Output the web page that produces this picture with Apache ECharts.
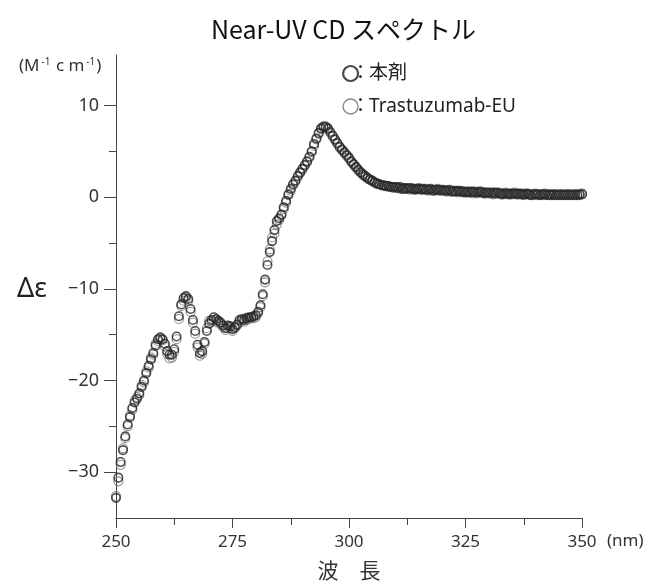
<!DOCTYPE html>
<html>
<head>
<meta charset="utf-8">
<script src="https://cdn.jsdelivr.net/npm/echarts@6/dist/echarts.min.js"></script>
<style>html,body{margin:0;padding:0;background:#fff}#c{width:646px;height:583px}</style>
</head>
<body>
<div id="c"></div>
<script>
const titleText = 'Near-UV CD スペクトル';
const seriesNames = ['本剤', 'Trastuzumab-EU'];
const xTickLabels = [250, 275, 300, 325, 350];
const yTickLabels = [-30, -20, -10, 0, 10];
const yMinorTicks = [-25, -15, -5, 5];

const wavelengths = [
250,250.5,251,251.5,252,252.5,253,253.5,254,254.5,
255,255.5,256,256.5,257,257.5,258,258.5,259,259.5,
260,260.5,261,261.5,262,262.5,263,263.5,264,264.5,
265,265.5,266,266.5,267,267.5,268,268.5,269,269.5,
270,270.5,271,271.5,272,272.5,273,273.5,274,274.5,
275,275.5,276,276.5,277,277.5,278,278.5,279,279.5,
280,280.5,281,281.5,282,282.5,283,283.5,284,284.5,
285,285.5,286,286.5,287,287.5,288,288.5,289,289.5,
290,290.5,291,291.5,292,292.5,293,293.5,294,294.5,
295,295.5,296,296.5,297,297.5,298,298.5,299,299.5,
300,300.5,301,301.5,302,302.5,303,303.5,304,304.5,
305,305.5,306,306.5,307,307.5,308,308.5,309,309.5,
310,310.5,311,311.5,312,312.5,313,313.5,314,314.5,
315,315.5,316,316.5,317,317.5,318,318.5,319,319.5,
320,320.5,321,321.5,322,322.5,323,323.5,324,324.5,
325,325.5,326,326.5,327,327.5,328,328.5,329,329.5,
330,330.5,331,331.5,332,332.5,333,333.5,334,334.5,
335,335.5,336,336.5,337,337.5,338,338.5,339,339.5,
340,340.5,341,341.5,342,342.5,343,343.5,344,344.5,
345,345.5,346,346.5,347,347.5,348,348.5,349,349.5,
350];

const honzai = [
-32.8,-30.6,-28.9,-27.6,-26.1,-24.8,-24.0,-23.0,-22.4,-22.0,
-21.4,-20.7,-20.0,-19.2,-18.4,-17.7,-17.0,-16.2,-15.5,-15.3,
-15.5,-16.0,-16.8,-17.2,-17.2,-16.6,-15.2,-13.0,-11.7,-11.0,
-10.8,-11.1,-12.2,-13.4,-14.6,-16.1,-17.0,-16.8,-15.8,-14.6,
-13.8,-13.4,-13.1,-13.3,-13.5,-13.7,-14.0,-14.3,-14.0,-14.1,
-14.4,-14.2,-13.9,-13.4,-13.3,-13.4,-13.2,-13.1,-13.1,-13.0,
-12.9,-12.5,-11.8,-10.6,-9.0,-7.4,-6.0,-4.8,-3.6,-2.6,
-2.3,-1.9,-1.1,-0.4,0.3,0.9,1.4,1.8,2.3,2.7,
3.1,3.5,3.9,4.4,5.0,5.8,6.4,7.0,7.5,7.7,
7.7,7.5,7.1,6.7,6.3,5.9,5.5,5.2,4.9,4.6,
4.3,3.9,3.6,3.3,3.0,2.7,2.5,2.3,2.1,1.9,
1.8,1.6,1.5,1.4,1.3,1.3,1.2,1.2,1.1,1.1,
1.1,1.0,1.1,0.9,1.0,0.9,1.0,0.9,0.8,0.9,
0.9,0.8,0.9,0.8,0.8,0.9,0.7,0.8,0.8,0.7,
0.8,0.7,0.7,0.8,0.6,0.7,0.6,0.7,0.6,0.6,
0.5,0.6,0.5,0.6,0.5,0.5,0.6,0.5,0.4,0.5,
0.5,0.4,0.5,0.4,0.5,0.4,0.3,0.4,0.4,0.3,
0.4,0.4,0.3,0.4,0.3,0.3,0.4,0.3,0.2,0.3,
0.3,0.3,0.2,0.3,0.3,0.2,0.3,0.2,0.3,0.2,
0.2,0.3,0.2,0.2,0.3,0.2,0.2,0.3,0.2,0.3,
0.3];

const trastuzumabEU = [
-32.6,-31.0,-29.2,-27.4,-26.3,-25.0,-23.8,-23.2,-22.2,-21.8,
-21.6,-20.5,-20.2,-19.0,-18.6,-17.5,-17.2,-16.0,-15.7,-15.5,
-15.6,-16.3,-17.1,-17.6,-17.5,-16.9,-15.5,-13.3,-11.9,-11.3,
-11.0,-11.3,-12.5,-13.7,-14.9,-16.4,-17.3,-17.1,-16.0,-14.3,
-13.5,-13.6,-13.4,-13.6,-13.7,-13.9,-14.2,-14.5,-14.3,-14.3,
-14.6,-14.3,-14.0,-13.6,-13.5,-13.6,-13.4,-13.3,-13.2,-13.2,
-13.1,-12.7,-12.0,-10.8,-9.3,-7.0,-5.7,-4.4,-4.0,-3.0,
-2.5,-2.0,-1.3,-0.6,0.2,0.7,1.3,1.7,2.2,2.6,
3.0,3.4,3.8,4.3,4.9,5.6,6.3,6.9,7.4,7.6,
7.6,7.4,7.0,6.6,6.2,5.8,5.4,5.1,4.8,4.5,
4.2,3.8,3.5,3.2,2.9,2.7,2.4,2.2,2.0,1.9,
1.7,1.6,1.4,1.4,1.3,1.2,1.2,1.1,1.1,1.0,
1.0,1.1,0.9,1.0,0.9,1.0,0.8,1.0,0.9,0.8,
1.0,0.9,0.8,0.9,0.7,0.8,0.8,0.7,0.9,0.8,
0.7,0.8,0.6,0.7,0.7,0.6,0.7,0.5,0.7,0.5,
0.6,0.5,0.6,0.4,0.6,0.4,0.5,0.6,0.5,0.4,
0.4,0.5,0.3,0.5,0.4,0.3,0.4,0.5,0.3,0.4,
0.3,0.5,0.4,0.3,0.4,0.2,0.3,0.4,0.3,0.2,
0.4,0.2,0.3,0.2,0.4,0.3,0.2,0.3,0.2,0.3,
0.3,0.2,0.3,0.3,0.2,0.3,0.3,0.2,0.3,0.2,
0.4];

const FONT = "'Noto Sans', 'Noto Sans CJK JP', sans-serif";
const pairs = (vals) => wavelengths.map((w, i) => [w, vals[i]]);

const chart = echarts.init(document.getElementById('c'), null, {renderer: 'canvas'});
chart.setOption({
  animation: false,
  backgroundColor: '#fff',
  title: {
    text: titleText,
    left: 206, top: 12,
    textStyle: {fontFamily: "'Noto Sans CJK JP', sans-serif", fontSize: 25, fontWeight: 'normal', color: '#111'}
  },
  grid: {left: 116, right: 64, top: 55, bottom: 65, outerBoundsMode: 'none'},
  legend: {
    orient: 'vertical', left: 337, top: 59,
    itemWidth: 15, itemHeight: 15, itemGap: 14,
    selectedMode: false,
    formatter: (name) => '{c|：}' + name,
    textStyle: {fontFamily: FONT, fontSize: 19, color: '#222',
      rich: {c: {padding: [0, -1, 0, -12], fontFamily: FONT, fontSize: 19, color: '#222'}}},
    data: [
      {name: seriesNames[0], icon: 'circle', itemStyle: {color: 'rgba(0,0,0,0)', borderColor: '#1a1a1a', borderWidth: 2.2}},
      {name: seriesNames[1], icon: 'circle', itemStyle: {color: 'rgba(0,0,0,0)', borderColor: '#6a6a6a', borderWidth: 1.4}}
    ]
  },
  xAxis: {
    type: 'value', min: 250, max: 350, interval: 25,
    name: '波　長', nameLocation: 'middle', nameGap: 44,
    nameTextStyle: {fontFamily: FONT, fontSize: 21, color: '#333'},
    axisLine: {onZero: false, lineStyle: {color: '#444', width: 1}},
    axisTick: {show: true, length: 10, inside: false, lineStyle: {color: '#444'}},
    minorTick: {show: true, splitNumber: 2, length: 7, lineStyle: {color: '#444'}},
    splitLine: {show: false},
    minorSplitLine: {show: false},
    axisLabel: {margin: 16, fontFamily: FONT, fontSize: 17, color: '#333',
      customValues: xTickLabels}
  },
  yAxis: [{
    type: 'value', min: -35, max: 15.5, interval: 5,
    axisLine: {show: true, onZero: false, lineStyle: {color: '#444', width: 1}},
    axisTick: {show: true, length: 12, customValues: yTickLabels, lineStyle: {color: '#444'}},
    splitLine: {show: false},
    axisLabel: {margin: 17, fontFamily: FONT, fontSize: 18, color: '#333',
      customValues: yTickLabels,
      formatter: (v) => String(v).replace('-', '−')}
  }, {
    type: 'value', min: -35, max: 15.5, interval: 5, position: 'left', offset: 0,
    axisLine: {show: false, onZero: false},
    axisTick: {show: true, length: 7, customValues: yMinorTicks, lineStyle: {color: '#444'}},
    splitLine: {show: false},
    axisLabel: {show: false}
  }],
  graphic: [
    {type: 'text', left: 19, top: 57, style: {
      text: '(M{s|-1} c m{s|-1})', fontFamily: FONT, fontSize: 17, fill: '#333',
      rich: {s: {fontSize: 10, verticalAlign: 'top', padding: [0, 1, 8, 2], fontFamily: FONT, fill: '#333'}}
    }},
    {type: 'text', left: 17, top: 276, style: {text: 'Δε', fontFamily: FONT, fontSize: 27, fill: '#222'}},
    {type: 'text', left: 607, top: 533, style: {text: '(nm)', fontFamily: FONT, fontSize: 17, fill: '#333'}}
  ],
  series: [
    {
      name: seriesNames[1], type: 'scatter', yAxisIndex: 0,
      symbol: 'circle', symbolSize: 9,
      itemStyle: {color: 'rgba(0,0,0,0)', borderColor: '#707070', borderWidth: 1.1},
      emphasis: {disabled: true},
      data: pairs(trastuzumabEU)
    },
    {
      name: seriesNames[0], type: 'scatter', yAxisIndex: 0,
      symbol: 'circle', symbolSize: 8.5,
      itemStyle: {color: 'rgba(0,0,0,0)', borderColor: '#262626', borderWidth: 1.6},
      emphasis: {disabled: true},
      data: pairs(honzai)
    }
  ]
});
</script>
</body>
</html>
